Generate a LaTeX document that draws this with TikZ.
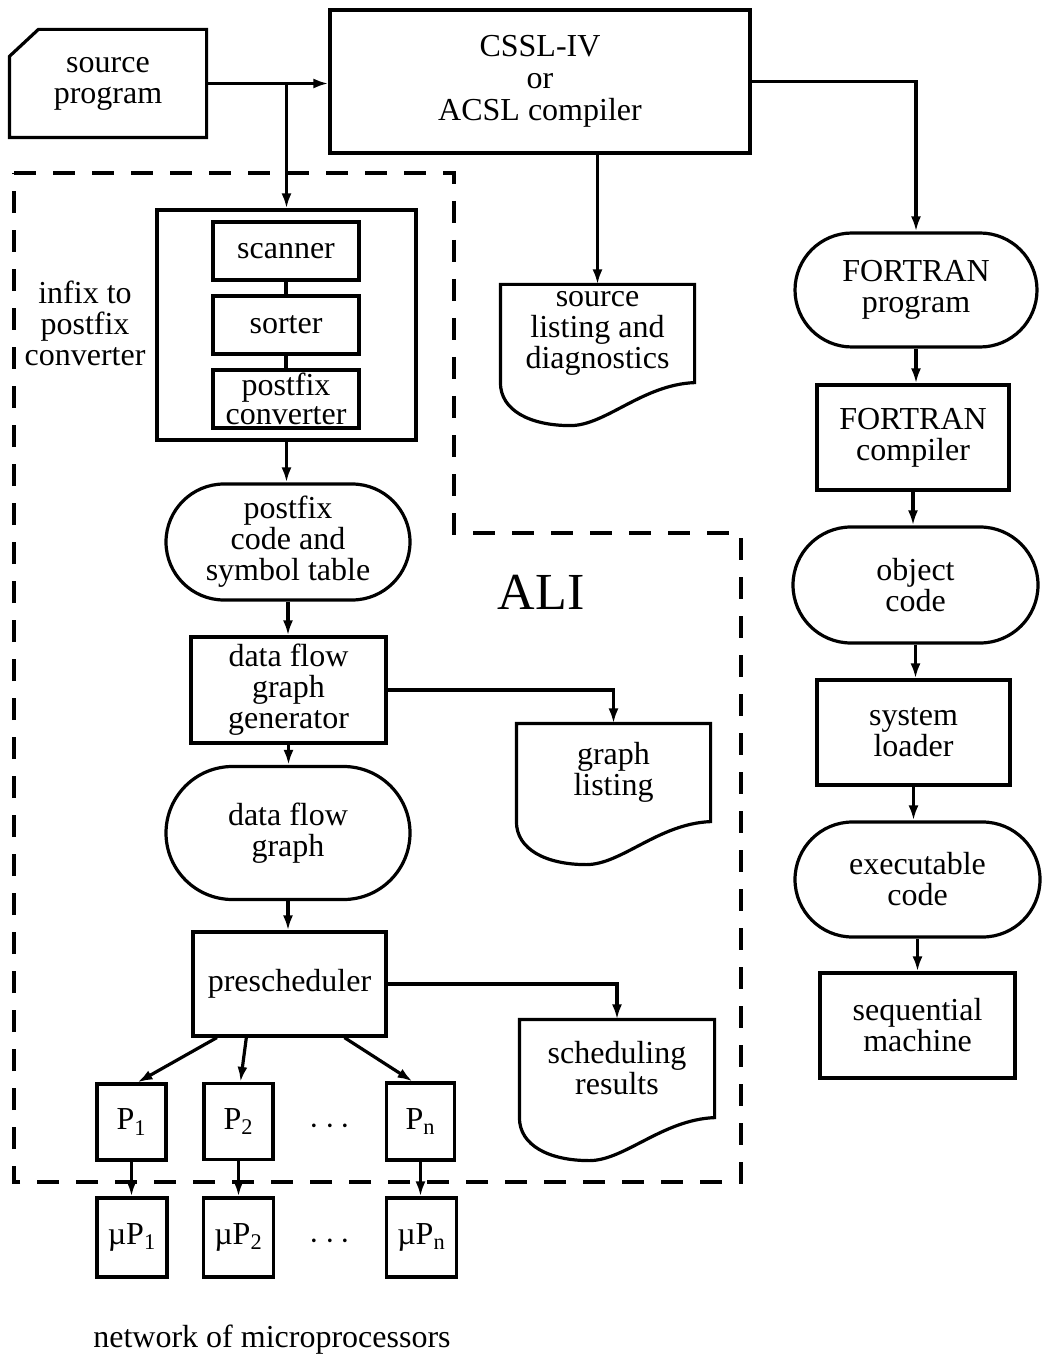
\documentclass[tikz,border=0pt]{standalone}
\usepackage{fontspec}
\setmainfont{Liberation Serif}
\usetikzlibrary{arrows.meta,calc,shapes.misc}

\begin{document}
\begin{tikzpicture}[x=0.5pt,y=-0.5pt,
  line width=1.6pt,
  every node/.style={font=\fontsize{16}{15.5}\selectfont, align=center, inner sep=0pt},
  blk/.style={draw, rectangle},
  term/.style={draw, rounded rectangle},
  txt/.style={rectangle},
  arr/.style={-{Latex[length=7.5pt,width=5pt]}},
  ali/.style={dash pattern=on 11pt off 8.5pt}
]
\useasboundingbox (0,0) rectangle (1043,1363);

% --- source and compiler ---
\node[txt, minimum width=97pt, minimum height=52.5pt] (src) at (108,83.5) {source\\program};
\draw (src.south west) -- (src.south east) -- (src.north east)
  -- ($(src.north west)+(29,0)$) -- ($(src.north west)+(0,27)$) -- cycle;

\node[blk, minimum width=210pt, minimum height=71.5pt] (comp) at (540,81.5)
  {CSSL-IV\\[0.5pt]or\\[0.5pt]ACSL compiler};

% --- ALI region ---
\draw[ali] (14,173) -- (454,173) -- (454,533) -- (741,533) -- (741,1182) -- (14,1182) -- cycle;
\node[font=\fontsize{26}{30}\selectfont] (alilbl) at (541,592) {ALI};

% --- infix to postfix converter ---
\node (infix) at (85,323) {infix to\\postfix\\converter};
\node[blk, minimum width=129.5pt, minimum height=115pt] (cont) at (286.5,325) {};
\node[blk, minimum width=73pt, minimum height=29pt] (scan) at (286,251) {scanner};
\node[blk, minimum width=73pt, minimum height=29pt] (sort) at (286,325) {sorter};
\node[blk, minimum width=73pt, minimum height=29pt, font=\fontsize{16}{14.5}\selectfont] (pconv) at (286,399) {postfix\\converter};
\draw (scan.south) -- (sort.north);
\draw (sort.south) -- (pconv.north);

% --- ALI pipeline ---
\node[term, minimum width=122pt, minimum height=58pt] (pcode) at (288,542) {postfix\\code and\\symbol table};
\node[blk, minimum width=97.5pt, minimum height=53pt] (dfgg) at (288.5,690) {data flow\\graph\\generator};
\node[term, minimum width=122pt, minimum height=66.5pt] (dfg) at (288,833) {data flow\\graph};
\node[blk, minimum width=96.5pt, minimum height=52pt] (presch) at (289.5,984) {prescheduler};

% --- document outputs ---
\node[txt, minimum width=95.5pt, minimum height=47.5pt] (slist) at (597.5,333.5) {source\\listing and\\diagnostics};
\node[txt, minimum width=95.5pt, minimum height=47.5pt] (glist) at (613.5,772.5) {graph\\listing};
\node[txt, minimum width=96pt, minimum height=47.5pt] (sched) at (617,1068.5) {scheduling\\results};
\foreach \d in {slist,glist,sched}{
  \draw (\d.north west) -- (\d.north east) -- (\d.south east)
    .. controls +(-52,2) and +(35,0) .. ($(\d.south west)+(70,43)$)
    .. controls +(-40,0) and +(0,28) .. (\d.south west) -- cycle;
}

% --- processors ---
\node[blk, minimum width=34.5pt, minimum height=38pt] (P1) at (131.5,1122) {P\textsubscript{1}};
\node[blk, minimum width=34.5pt, minimum height=38pt] (P2) at (238.5,1121.5) {P\textsubscript{2}};
\node[blk, minimum width=34pt, minimum height=38.5pt] (Pn) at (420.5,1121.5) {P\textsubscript{n}};
\node (pdots) at (330,1127) {$\cdots$};
\node[blk, minimum width=35pt, minimum height=39.5pt] (mP1) at (132,1237.5) {µP\textsubscript{1}};
\node[blk, minimum width=35pt, minimum height=39.5pt] (mP2) at (238.5,1237.5) {µP\textsubscript{2}};
\node[blk, minimum width=35pt, minimum height=39.5pt] (mPn) at (421.5,1237.5) {µP\textsubscript{n}};
\node (mdots) at (330,1242) {$\cdots$};
\node (net) at (272,1340) {network of microprocessors};

% --- FORTRAN column ---
\node[term, minimum width=121pt, minimum height=57pt] (fprog) at (916,290) {FORTRAN\\program};
\node[blk, minimum width=96pt, minimum height=52.5pt] (fcomp) at (913,437.5) {FORTRAN\\compiler};
\node[term, minimum width=122.5pt, minimum height=58pt] (obj) at (915.5,585) {object\\code};
\node[blk, minimum width=96.5pt, minimum height=52.5pt] (load) at (913.5,732.5) {system\\loader};
\node[term, minimum width=122.5pt, minimum height=57.5pt] (exe) at (917.5,879.5) {executable\\code};
\node[blk, minimum width=97.5pt, minimum height=52.5pt] (seq) at (917.5,1025.5) {sequential\\machine};

% --- connectors ---
\coordinate (split) at (src.east -| cont.north);
\draw[arr] (src.east) -- (src.east -| comp.west);
\draw[arr] (split) -- (cont.north);
\draw[arr] (slist.north |- comp.south) -- (slist.north);
\draw[arr] (comp.east) -| (fprog.north);

\draw[arr] (cont.south) -- (cont.south |- pcode.north);
\draw[arr] (pcode.south) -- (pcode.south |- dfgg.north);
\draw[arr] (dfgg.south) -- (dfgg.south |- dfg.north);
\draw[arr] (dfg.south) -- (dfg.south |- presch.north);
\draw[arr] (dfgg.east) -| (glist.north);
\draw[arr] (presch.east) -| (sched.north);

\draw[arr] ($(presch.south west)!0.13!(presch.south east)$) -- ([xshift=3pt]P1.north);
\draw[arr] ($(presch.south west)!0.28!(presch.south east)$) -- ([xshift=1pt]P2.north);
\draw[arr] ($(presch.south west)!0.78!(presch.south east)$) -- ([xshift=-4pt]Pn.north);
\draw[arr] (P1.south) -- (P1.south |- mP1.north);
\draw[arr] (P2.south) -- (P2.south |- mP2.north);
\draw[arr] (Pn.south) -- (Pn.south |- mPn.north);

\draw[arr] (fprog.south) -- (fprog.south |- fcomp.north);
\draw[arr] (fcomp.south) -- (fcomp.south |- obj.north);
\draw[arr] (obj.south) -- (obj.south |- load.north);
\draw[arr] (load.south) -- (load.south |- exe.north);
\draw[arr] (exe.south) -- (exe.south |- seq.north);
\end{tikzpicture}
\end{document}
